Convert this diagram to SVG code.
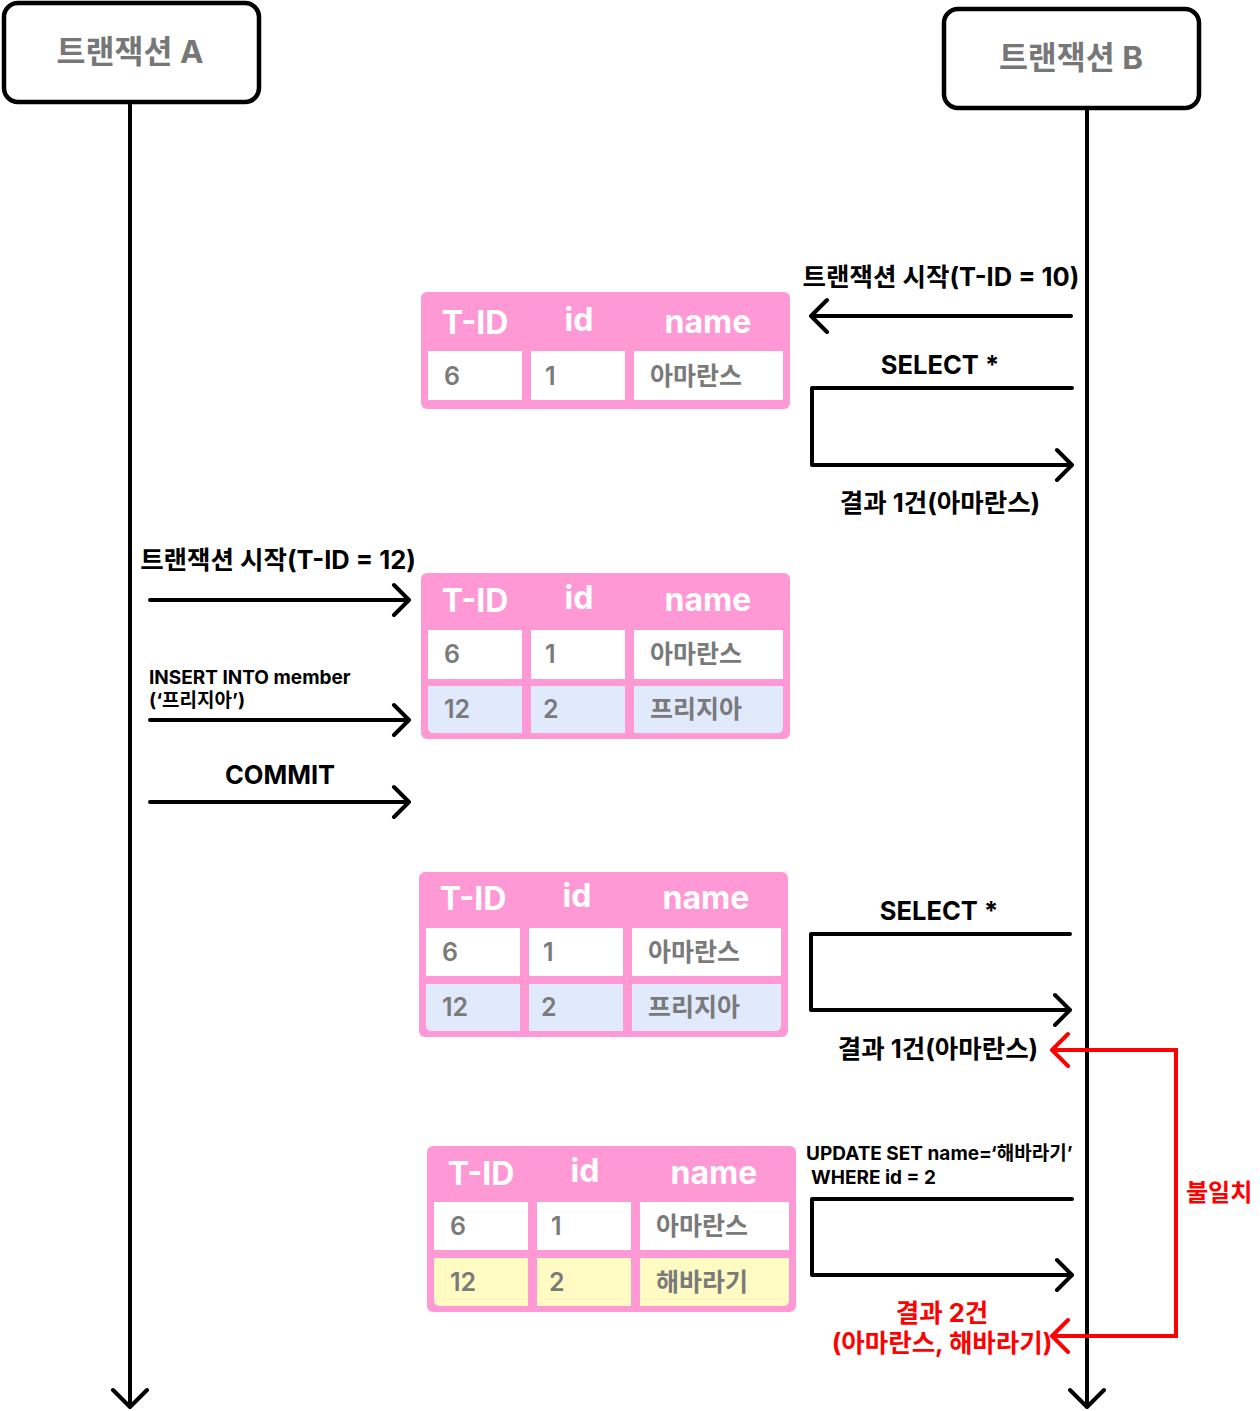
<svg xmlns="http://www.w3.org/2000/svg" width="1260" height="1411" viewBox="0 0 1260 1411">
<style>
text{font-family:Inter,"Noto Sans CJK KR","Liberation Sans",sans-serif;font-weight:700}
.title{font-size:31.5px;fill:#777;text-anchor:middle}
.lbl{font-size:25.5px;fill:#000}
.sm{font-size:19px;fill:#000}
.red{fill:#ff0000}
.mid{text-anchor:middle}
.hd{font-size:32px;fill:#fff;text-anchor:middle}
.cell{font-size:25px;fill:#7a7a7a;font-weight:600}
.ln{fill:none;stroke:#000;stroke-width:4;stroke-linecap:round;stroke-linejoin:round}
.rln{fill:none;stroke:#ff0000;stroke-width:4;stroke-linecap:round;stroke-linejoin:miter}
.tbl{fill:#ff99d6}
.w{fill:#fff}
.b{fill:#e1e9fd}
.y{fill:#fffbc2}
</style>
<g id="txA">
<rect x="4" y="3" width="255" height="99" rx="14" fill="#fff" stroke="#000" stroke-width="4.5"/>
<text class="title" x="130" y="63">트랜잭션 A</text>
</g>
<g id="txB">
<rect x="944" y="9" width="255" height="99" rx="14" fill="#fff" stroke="#000" stroke-width="4.5"/>
<text class="title" x="1071" y="69">트랜잭션 B</text>
</g>
<g id="connectors">
<path class="ln" d="M130 104V1406M113 1390L130 1407L147 1390"/>
<path class="ln" d="M1087 110V1406M1070 1390L1087 1407L1104 1390"/>
<path class="ln" d="M1071 316H812M827 300L811 316L827 332"/>
<path class="ln" d="M1072 388H812V465H1072M1057 450L1072 465L1057 480"/>
<path class="ln" d="M150 600H409M394 585L409 600L394 615"/>
<path class="ln" d="M150 720H409M394 705L409 720L394 735"/>
<path class="ln" d="M150 802H409M394 787L409 802L394 817"/>
<path class="ln" d="M1070 934H811V1010H1070M1055 995L1070 1010L1055 1025"/>
<path class="ln" d="M1072 1199H812V1275H1072M1057 1260L1072 1275L1057 1290"/>
<path class="rln" d="M1053 1050H1176V1336H1053"/>
<path class="rln" style="stroke-linecap:round;stroke-linejoin:round" d="M1068 1034L1052 1050L1068 1066M1068 1320L1052 1336L1068 1352"/>
</g>
<g id="labels">
<text class="lbl mid" x="941" y="286">트랜잭션 시작(T-ID = 10)</text>
<text class="lbl mid" x="940" y="374">SELECT *</text>
<text class="lbl mid" x="940" y="512">결과 1건(아마란스)</text>
<text class="lbl mid" x="278" y="569">트랜잭션 시작(T-ID = 12)</text>
<text class="sm" x="149" y="684">INSERT INTO member</text>
<text class="sm" x="149" y="707">(‘프리지아’)</text>
<text class="lbl mid" x="280" y="784">COMMIT</text>
<text class="lbl mid" x="939" y="920">SELECT *</text>
<text class="lbl mid" x="938" y="1058">결과 1건(아마란스)</text>
<text class="sm" x="806" y="1160">UPDATE SET name=‘해바라기’</text>
<text class="sm" x="811" y="1184">WHERE id = 2</text>
<text class="lbl mid red" x="942" y="1322">결과 2건</text>
<text class="lbl mid red" x="942" y="1352">(아마란스, 해바라기)</text>
<text class="red" style="font-size:24px" x="1186" y="1201">불일치</text>
</g>
<g id="table1">
<rect class="tbl" x="421" y="292" width="369" height="117" rx="6"/>
<text class="hd" x="475" y="334">T-ID</text>
<text class="hd" x="579" y="331">id</text>
<text class="hd" x="708" y="333">name</text>
<rect class="w" x="428" y="351" width="94" height="49"/>
<rect class="w" x="531" y="351" width="94" height="49"/>
<rect class="w" x="634" y="351" width="149" height="49"/>
<text class="cell" x="444" y="385">6</text>
<text class="cell" x="545" y="385">1</text>
<text class="cell" x="650" y="385">아마란스</text>
</g>
<g id="table2">
<rect class="tbl" x="421" y="573" width="369" height="166" rx="6"/>
<text class="hd" x="475" y="612">T-ID</text>
<text class="hd" x="579" y="609">id</text>
<text class="hd" x="708" y="611">name</text>
<rect class="w" x="428" y="630" width="94" height="49"/>
<rect class="w" x="531" y="630" width="94" height="49"/>
<rect class="w" x="634" y="630" width="149" height="49"/>
<path class="b" d="M428 686H522V733H434Q428 733 428 727Z"/>
<rect class="b" x="531" y="686" width="94" height="47"/>
<path class="b" d="M634 686H783V727Q783 733 777 733H634Z"/>
<text class="cell" x="444" y="663">6</text>
<text class="cell" x="545" y="663">1</text>
<text class="cell" x="650" y="663">아마란스</text>
<text class="cell" x="444" y="718">12</text>
<text class="cell" x="543" y="718">2</text>
<text class="cell" x="650" y="718">프리지아</text>
</g>
<g id="table3">
<rect class="tbl" x="419" y="872" width="369" height="165" rx="6"/>
<text class="hd" x="473" y="910">T-ID</text>
<text class="hd" x="577" y="907">id</text>
<text class="hd" x="706" y="909">name</text>
<rect class="w" x="426" y="928" width="94" height="48"/>
<rect class="w" x="529" y="928" width="94" height="48"/>
<rect class="w" x="632" y="928" width="149" height="48"/>
<path class="b" d="M426 984H520V1031H432Q426 1031 426 1025Z"/>
<rect class="b" x="529" y="984" width="94" height="47"/>
<path class="b" d="M632 984H781V1025Q781 1031 775 1031H632Z"/>
<text class="cell" x="442" y="961">6</text>
<text class="cell" x="543" y="961">1</text>
<text class="cell" x="648" y="961">아마란스</text>
<text class="cell" x="442" y="1016">12</text>
<text class="cell" x="541" y="1016">2</text>
<text class="cell" x="648" y="1016">프리지아</text>
</g>
<g id="table4">
<rect class="tbl" x="427" y="1146" width="369" height="166" rx="6"/>
<text class="hd" x="481" y="1185">T-ID</text>
<text class="hd" x="585" y="1182">id</text>
<text class="hd" x="714" y="1184">name</text>
<rect class="w" x="434" y="1202" width="94" height="48"/>
<rect class="w" x="537" y="1202" width="94" height="48"/>
<rect class="w" x="640" y="1202" width="149" height="48"/>
<path class="y" d="M434 1258H528V1306H440Q434 1306 434 1300Z"/>
<rect class="y" x="537" y="1258" width="94" height="48"/>
<path class="y" d="M640 1258H789V1300Q789 1306 783 1306H640Z"/>
<text class="cell" x="450" y="1235">6</text>
<text class="cell" x="551" y="1235">1</text>
<text class="cell" x="656" y="1235">아마란스</text>
<text class="cell" x="450" y="1291">12</text>
<text class="cell" x="549" y="1291">2</text>
<text class="cell" x="656" y="1291">해바라기</text>
</g>
</svg>
